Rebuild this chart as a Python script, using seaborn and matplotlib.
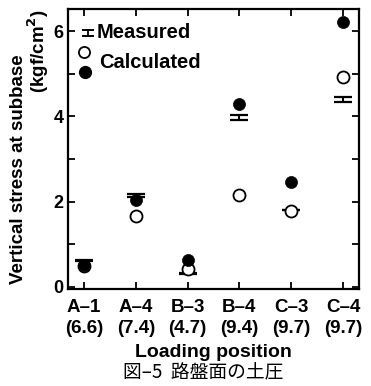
import matplotlib
matplotlib.use("Agg")
import matplotlib.pyplot as plt
import seaborn as sns
import pandas as pd
import numpy as np

positions = ["A–1", "A–4", "B–3", "B–4", "C–3", "C–4"]
thickness = ["(6.6)", "(7.4)", "(4.7)", "(9.4)", "(9.7)", "(9.7)"]
measured_low = [0.60, 2.10, 0.30, 3.92, 1.80, 4.33]
measured_high = [0.62, 2.17, 0.32, 4.04, 1.80, 4.45]
calc_open = [0.50, 1.66, 0.42, 2.15, 1.78, 4.93]
calc_filled = [0.51, 2.05, 0.62, 4.30, 2.47, 6.22]

sns.set_theme(style="ticks")
plt.rcParams['font.family'] = ['Liberation Sans', 'DejaVu Sans']
plt.rcParams['font.weight'] = 'bold'
plt.rcParams['text.color'] = 'black'
plt.rcParams['axes.labelcolor'] = 'black'
plt.rcParams['xtick.color'] = 'black'
plt.rcParams['ytick.color'] = 'black'
plt.rcParams['xtick.labelcolor'] = 'black'
plt.rcParams['ytick.labelcolor'] = 'black'

df = pd.DataFrame({
    "pos": positions,
    "idx": np.arange(len(positions)),
    "lo": measured_low,
    "hi": measured_high,
    "open": calc_open,
    "filled": calc_filled,
})

fig = plt.figure(figsize=(3.71, 3.86), dpi=100)
ax = fig.add_axes([68/371, 1-289/386, (359-68)/371, (289-9)/386])

# measured: I-shaped range markers
mid = (df["lo"] + df["hi"]) / 2
err = (df["hi"] - df["lo"]) / 2
ax.errorbar(df["idx"], mid, yerr=err, fmt="none", ecolor="black",
            elinewidth=1.5, capsize=6.5, capthick=1.6, zorder=2)

sns.scatterplot(data=df, x="idx", y="open", ax=ax, marker="o", s=75,
                facecolor="white", edgecolor="black", linewidth=1.3, zorder=3)
sns.scatterplot(data=df, x="idx", y="filled", ax=ax, marker="o", s=75,
                color="black", edgecolor="black", linewidth=0.5, zorder=4)

ax.set_xlim(-0.31, 5.31)
ax.set_ylim(-0.05, 6.52)
ax.set_xticks(df["idx"])
ax.set_xticklabels([f"{p}\n{t}" for p, t in zip(positions, thickness)],
                   fontsize=13.5, fontweight="bold", linespacing=1.3)
ax.set_yticks(range(0, 7))
ax.set_yticklabels(["0", "", "2", "", "4", "", "6"], fontsize=13, fontweight="bold")
ax.tick_params(direction="in", length=5, width=1.3, top=True, right=True,
               color="black", pad=3)
ax.tick_params(axis="x", pad=7)
for s in ax.spines.values():
    s.set_linewidth(1.6)
    s.set_color("black")
ax.set_xlabel("Loading position", fontsize=14, fontweight="bold", labelpad=5)
ax.set_ylabel("")

fig.text(19/371, 1-169/386, "Vertical stress at subbase", rotation=90,
         ha="center", va="center", fontsize=13.5, fontweight="bold")
fig.text(38/371, 1-51/386, "(kgf/cm$^\\mathbf{2}$)", rotation=90,
         ha="center", va="center", fontsize=13.5, fontweight="bold")

# legend keys
tr = ax.transAxes
def axpt(x, y):
    return ((x - 68) / 291, (289 - y) / 280)
x0, y0 = axpt(88, 33)
ax.errorbar([x0], [y0], yerr=[[0.012], [0.012]], fmt="none", ecolor="black",
            elinewidth=1.3, capsize=4.5, capthick=1.4, transform=tr, clip_on=False)
xo, yo = axpt(84, 52)
ax.plot([xo], [yo], "o", ms=8, mfc="white", mec="black", mew=1.3, transform=tr)
xf, yf = axpt(85, 72)
ax.plot([xf], [yf], "o", ms=8.5, color="black", transform=tr)
tx, ty = axpt(97, 33)
ax.text(tx, ty, "Measured", transform=tr, ha="left", va="center",
        fontsize=14.5, fontweight="bold")
tx, ty = axpt(99, 62)
ax.text(tx, ty, "Calculated", transform=tr, ha="left", va="center",
        fontsize=14.5, fontweight="bold")

fig.text(203/371, 1-373/386, "図–5  路盤面の土圧", ha="center", va="center",
         fontsize=13.5, family=["Noto Sans CJK JP", "DejaVu Sans"], fontweight="normal")

fig.savefig("out.png", dpi=100)
